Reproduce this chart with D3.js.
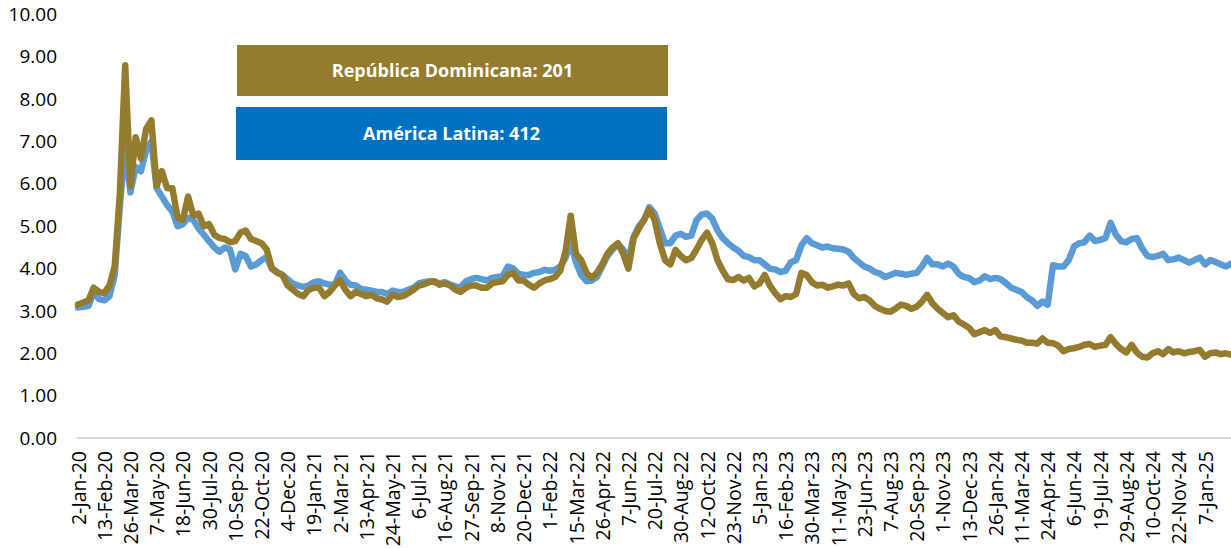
<!DOCTYPE html>
<html>
<head>
<meta charset="utf-8">
<script src="https://cdn.jsdelivr.net/npm/d3@7"></script>
<style>
  html, body { margin: 0; padding: 0; background: #ffffff; }
  svg { display: block; font-family: "Open Sans", "Noto Sans", sans-serif; }
</style>
</head>
<body>
<svg id="chart" width="1231" height="548"></svg>
<script>
// Business-day index of each sampled observation (one every 6 trading days)
const dayIndex = d3.range(0, 1321, 6);

// Spread (%) – República Dominicana
const rdValues = [
  3.15,3.2,3.25,3.55,3.45,3.42,3.6,4.05,5.8,8.8,
  5.95,7.1,6.6,7.3,7.5,5.95,6.3,5.9,5.9,5.2,
  5.15,5.7,5.25,5.3,5.0,5.05,4.8,4.72,4.7,4.62,
  4.65,4.85,4.9,4.7,4.65,4.6,4.45,4.0,3.9,3.85,
  3.6,3.5,3.4,3.35,3.5,3.55,3.55,3.35,3.45,3.6,
  3.72,3.5,3.35,3.45,3.4,3.35,3.38,3.3,3.27,3.22,
  3.38,3.33,3.35,3.42,3.5,3.6,3.63,3.68,3.7,3.62,
  3.65,3.6,3.5,3.45,3.55,3.6,3.6,3.55,3.55,3.65,
  3.68,3.7,3.85,3.9,3.72,3.72,3.62,3.55,3.65,3.72,
  3.75,3.8,3.95,4.4,5.25,4.35,4.2,3.9,3.78,3.9,
  4.1,4.35,4.5,4.6,4.35,4.0,4.72,4.95,5.15,5.4,
  5.15,4.6,4.2,4.1,4.44,4.3,4.2,4.25,4.45,4.68,
  4.85,4.6,4.2,3.95,3.75,3.73,3.8,3.72,3.78,3.58,
  3.65,3.85,3.6,3.42,3.28,3.35,3.33,3.4,3.9,3.85,
  3.68,3.6,3.62,3.55,3.58,3.62,3.6,3.65,3.4,3.3,
  3.33,3.25,3.12,3.05,3.0,2.98,3.06,3.15,3.12,3.05,
  3.1,3.22,3.38,3.18,3.05,2.95,2.85,2.9,2.75,2.68,
  2.6,2.45,2.5,2.55,2.48,2.55,2.4,2.38,2.35,2.32,
  2.3,2.25,2.25,2.23,2.35,2.25,2.24,2.18,2.05,2.1,
  2.12,2.15,2.2,2.22,2.15,2.18,2.2,2.38,2.22,2.1,
  2.02,2.2,2.02,1.92,1.9,2.0,2.05,1.98,2.1,2.02,
  2.05,2.0,2.03,2.05,2.08,1.92,2.0,2.02,1.98,2.0,
  1.97
];

// Spread (%) – América Latina
const alValues = [
  3.08,3.1,3.12,3.45,3.28,3.25,3.35,3.85,5.5,6.9,
  5.8,6.4,6.3,6.8,7.0,5.9,5.7,5.5,5.35,5.0,
  5.05,5.2,5.15,4.95,4.8,4.65,4.5,4.4,4.5,4.45,
  3.98,4.35,4.3,4.05,4.1,4.2,4.27,4.0,3.92,3.85,
  3.75,3.65,3.6,3.57,3.6,3.68,3.7,3.65,3.62,3.62,
  3.9,3.72,3.62,3.6,3.52,3.5,3.48,3.45,3.45,3.4,
  3.48,3.45,3.45,3.5,3.55,3.65,3.68,3.7,3.68,3.65,
  3.68,3.62,3.58,3.55,3.7,3.75,3.78,3.75,3.72,3.78,
  3.8,3.82,4.05,4.0,3.88,3.85,3.85,3.9,3.92,3.97,
  3.95,3.97,4.05,4.25,4.6,4.15,3.85,3.7,3.72,3.8,
  4.05,4.3,4.45,4.58,4.45,4.2,4.75,5.0,5.15,5.45,
  5.3,4.95,4.6,4.6,4.78,4.82,4.75,4.78,5.15,5.28,
  5.3,5.18,4.9,4.72,4.6,4.5,4.42,4.3,4.27,4.2,
  4.2,4.1,4.0,3.98,3.92,3.95,4.15,4.2,4.55,4.72,
  4.6,4.55,4.5,4.52,4.48,4.47,4.45,4.4,4.25,4.15,
  4.05,4.0,3.92,3.88,3.8,3.85,3.9,3.88,3.85,3.88,
  3.9,4.05,4.25,4.1,4.1,4.05,4.12,4.05,3.88,3.8,
  3.78,3.68,3.72,3.82,3.75,3.78,3.75,3.66,3.55,3.5,
  3.45,3.33,3.25,3.12,3.22,3.15,4.08,4.05,4.05,4.2,
  4.52,4.6,4.62,4.78,4.65,4.68,4.72,5.08,4.8,4.65,
  4.62,4.7,4.72,4.48,4.3,4.27,4.3,4.35,4.2,4.22,
  4.26,4.2,4.14,4.2,4.26,4.1,4.2,4.16,4.1,4.05,
  4.12
];

// Date labels shown every 30 trading days
const tickLabels = [
  "2-Jan-20","13-Feb-20","26-Mar-20","7-May-20","18-Jun-20","30-Jul-20","10-Sep-20","22-Oct-20",
  "4-Dec-20","19-Jan-21","2-Mar-21","13-Apr-21","24-May-21","6-Jul-21","16-Aug-21","27-Sep-21",
  "8-Nov-21","20-Dec-21","1-Feb-22","15-Mar-22","26-Apr-22","7-Jun-22","20-Jul-22","30-Aug-22",
  "12-Oct-22","23-Nov-22","5-Jan-23","16-Feb-23","30-Mar-23","11-May-23","23-Jun-23","7-Aug-23",
  "20-Sep-23","1-Nov-23","13-Dec-23","26-Jan-24","11-Mar-24","24-Apr-24","6-Jun-24","19-Jul-24",
  "29-Aug-24","10-Oct-24","22-Nov-24","7-Jan-25"
];
const tickIndex = tickLabels.map((_, i) => i * 30);

const yTicks = [0,1,2,3,4,5,6,7,8,9,10];

const legendLabels = ["República Dominicana: 201", "América Latina: 412"];

const colors = { rd: "#957B2D", al: "#5B9BD5", rdBox: "#957B2D", alBox: "#0070C0" };

const svg = d3.select("#chart");

const x = d3.scaleLinear().domain([0, 1320]).range([78, 1231.2]);
const y = d3.scaleLinear().domain([0, 10]).range([438, 14.5]);

// Y axis (labels only)
const yAxis = svg.append("g")
  .attr("transform", `translate(${x(0)},0)`)
  .call(d3.axisLeft(y).tickValues(yTicks).tickFormat(d3.format(".2f")).tickSize(0).tickPadding(21));
yAxis.select(".domain").remove();
yAxis.selectAll("text")
  .attr("font-family", "'Open Sans', sans-serif")
  .attr("font-size", 19)
  .attr("fill", "#000");

// X axis: light baseline with rotated date labels
const xAxis = svg.append("g")
  .attr("transform", `translate(0,${y(0)})`)
  .call(d3.axisBottom(x).tickValues(tickIndex).tickFormat((d, i) => tickLabels[i]).tickSize(0));
xAxis.select(".domain")
  .attr("stroke", "#D9D9D9")
  .attr("stroke-width", 2)
  .attr("d", `M${x(0) - 1},0H1231`);
xAxis.selectAll("text")
  .attr("font-family", "'Open Sans', sans-serif")
  .attr("font-size", 19.5)
  .attr("fill", "#000")
  .attr("transform", "rotate(-90)")
  .attr("text-anchor", "end")
  .attr("x", -13)
  .attr("y", 0)
  .attr("dy", "0.36em");

// Series lines
const line = values => d3.line()
  .x((d, i) => x(dayIndex[i]))
  .y(d => y(d))(values);

svg.append("path")
  .attr("d", line(alValues))
  .attr("fill", "none")
  .attr("stroke", colors.al)
  .attr("stroke-width", 6.5)
  .attr("stroke-linejoin", "round")
  .attr("stroke-linecap", "round");

svg.append("path")
  .attr("d", line(rdValues))
  .attr("fill", "none")
  .attr("stroke", colors.rd)
  .attr("stroke-width", 6.5)
  .attr("stroke-linejoin", "round")
  .attr("stroke-linecap", "round");

// Labelled boxes
const boxes = [
  { label: legendLabels[0], fill: colors.rdBox, x: 237, y: 45, w: 431, h: 51 },
  { label: legendLabels[1], fill: colors.alBox, x: 236, y: 107, w: 431, h: 53 }
];
const box = svg.append("g").selectAll("g").data(boxes).join("g");
box.append("rect")
  .attr("x", d => d.x).attr("y", d => d.y)
  .attr("width", d => d.w).attr("height", d => d.h)
  .attr("fill", d => d.fill);
box.append("text")
  .attr("x", d => d.x + d.w / 2)
  .attr("y", d => d.y + d.h / 2)
  .attr("dy", "0.36em")
  .attr("text-anchor", "middle")
  .attr("font-family", "'Open Sans', sans-serif")
  .attr("font-weight", 700)
  .attr("font-size", 18)
  .attr("fill", "#ffffff")
  .text(d => d.label);
</script>
</body>
</html>
